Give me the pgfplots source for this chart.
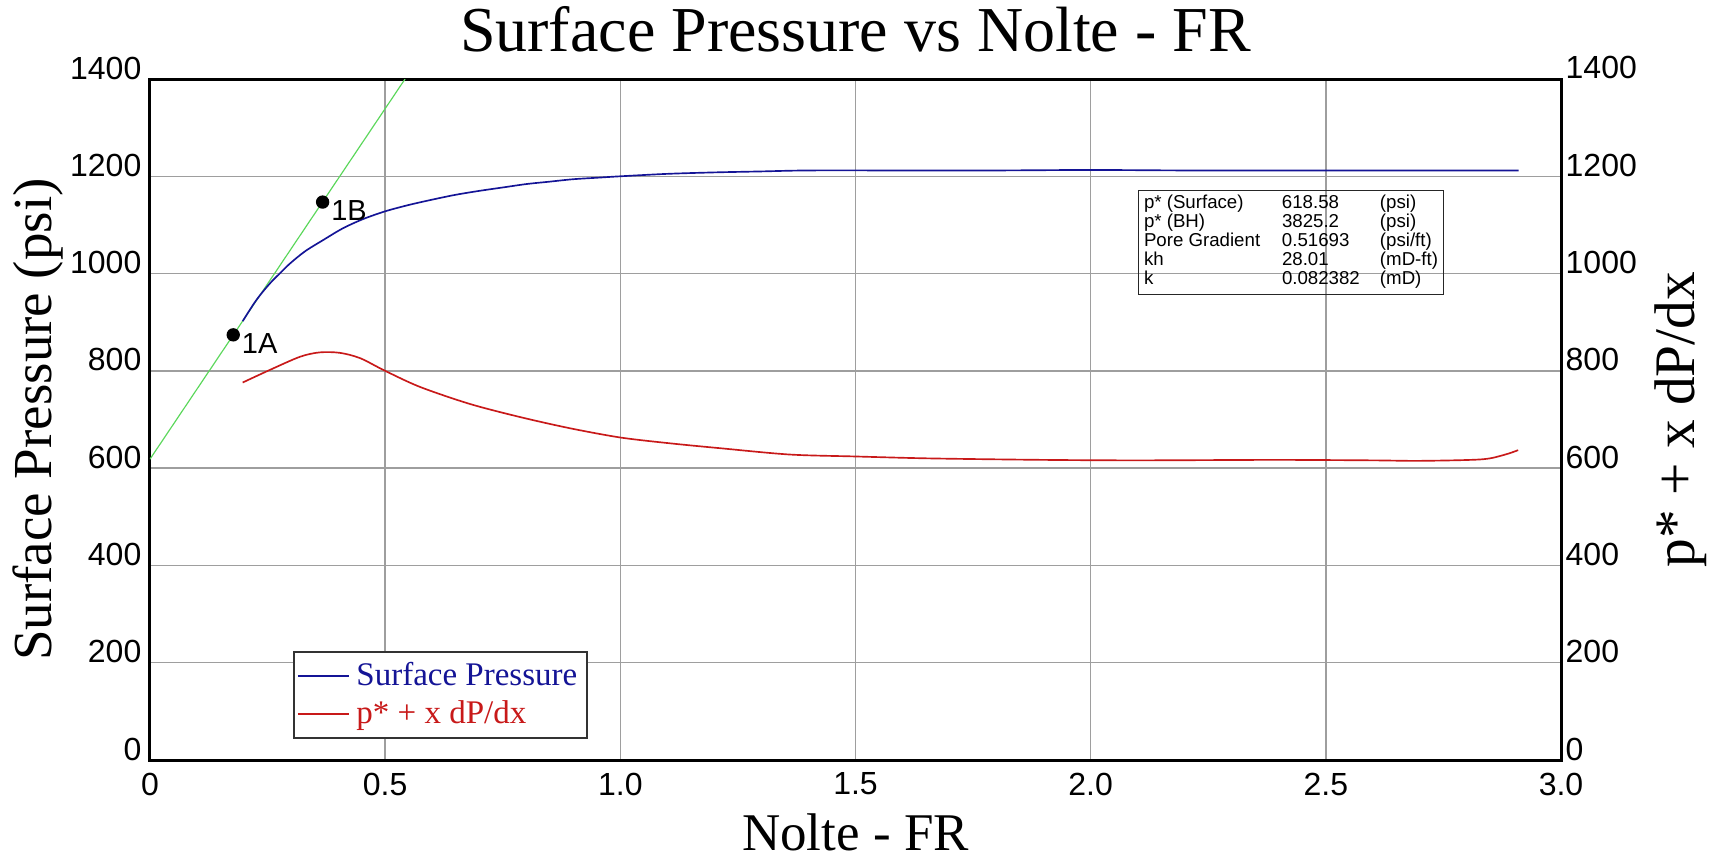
\documentclass[border=0pt]{standalone}
\usepackage{fontspec}
\setmainfont{Liberation Serif}
\newfontfamily\arial{Liberation Sans}
\usepackage{pgfplots}
\pgfplotsset{compat=1.18}

\definecolor{surfblue}{RGB}{20,20,150}
\definecolor{pstarred}{RGB}{200,25,25}
\definecolor{tangent}{RGB}{90,215,90}

\pgfplotstableread{
x y
0.197 902
0.210 922
0.225 944
0.241 964
0.260 985
0.280 1004
0.298 1021
0.330 1046
0.370 1070
0.410 1093
0.453 1112
0.500 1128
0.550 1141
0.600 1152
0.650 1162
0.700 1170
0.750 1177
0.800 1184
0.850 1189
0.900 1194
0.950 1197
1.000 1200
1.100 1205
1.200 1208
1.300 1210
1.400 1212
1.600 1212
1.800 1212
2.000 1213
2.200 1212
2.400 1212
2.600 1212
2.800 1212
2.910 1212
}\surface

\pgfplotstableread{
x y
0.197 776
0.255 802
0.319 829
0.361 838
0.404 837
0.447 826
0.500 800
0.574 767
0.680 732
0.787 705
0.893 682
1.000 663
1.106 651
1.212 641
1.360 628
1.500 624
1.660 620
1.900 617
2.100 616
2.390 617
2.600 616
2.700 615
2.830 618
2.878 627
2.909 637
}\pstar

\begin{document}
\begin{tikzpicture}
\begin{axis}[
  name=ax,
  width=423.3pt, height=204.3pt, scale only axis,
  xmin=0, xmax=3, ymin=0, ymax=1400,
  xtick={0,0.5,1,1.5,2,2.5,3},
  xticklabels={0,0.5,1.0,1.5,2.0,2.5,3.0},
  ytick={0,200,400,600,800,1000,1200,1400},
  yticklabels={0,200,400,600,800,1000,1200,1400},
  ytick pos=left,
  tick style={draw=none},
  grid=major,
  major grid style={draw=black!38, line width=0.45pt},
  axis line style={line width=0.9pt, black},
  ticklabel style={font={\arial\fontsize{9.6pt}{11pt}\selectfont}},
  xticklabel style={anchor=north, inner sep=0pt, yshift=-3.6pt},
  yticklabel style={anchor=base east, inner sep=0pt, xshift=-2.4pt},
  every axis title shift=0pt,
  title={Surface Pressure vs Nolte - FR},
  title style={at={(axis description cs:0.5,1.0402)}, anchor=base, inner sep=0pt,
    font=\fontsize{19.2pt}{22pt}\selectfont},
  xlabel={Nolte - FR},
  xlabel style={at={(axis description cs:0.5,-0.1335)}, anchor=base, inner sep=0pt,
    font=\fontsize{15.9pt}{18pt}\selectfont},
  ylabel={Surface Pressure (psi)},
  ylabel style={at={(axis description cs:-0.0695,0.5)}, anchor=base, inner sep=0pt,
    font=\fontsize{16.5pt}{19pt}\selectfont},
  legend style={at={(0.1013,0.0308)}, anchor=south west, draw=black!80, line width=0.5pt,
    font=\fontsize{9.9pt}{11pt}\selectfont, inner xsep=1pt, inner ysep=1pt,
    row sep=-1pt},
  legend cell align=left,
  legend image code/.code={\draw[#1] (0pt,0pt) -- (15.3pt,0pt);},
]
\addplot[tangent, line width=0.35pt, forget plot] coordinates {(0,618.58) (0.5423,1400)};
\addplot[surfblue, line width=0.5pt, smooth, tension=0.5] table {\surface};
\addlegendentry{\textcolor{surfblue}{Surface Pressure}}
\addplot[pstarred, line width=0.5pt, smooth, tension=0.5] table {\pstar};
\addlegendentry{\textcolor{pstarred}{p* + x dP/dx}}
\addplot[only marks, mark=*, mark size=1.8pt, black, forget plot,
  point meta=explicit symbolic, nodes near coords,
  every node near coord/.append style={anchor=north west, inner sep=0pt, xshift=2.4pt,
    yshift=0.6pt, text=black, font={\arial\fontsize{8.7pt}{10pt}\selectfont}}]
  table[meta=lab] {
x y lab
0.177 874 1A
0.367 1147 1B
};
\node[draw=black!85, line width=0.3pt, anchor=north west, inner xsep=1.6pt, inner ysep=1.3pt,
  font={\arial\fontsize{5.6pt}{5.5pt}\selectfont}] at (axis cs:2.101,1172) {%
  \begin{tabular}{@{}p{41.4pt}@{}p{29.4pt}@{}l@{}}
  p* (Surface) & 618.58 & (psi)\\
  p* (BH) & 3825.2 & (psi)\\
  Pore Gradient & 0.51693 & (psi/ft)\\
  kh & 28.01 & (mD-ft)\\
  k & 0.082382 & (mD)
  \end{tabular}};
\end{axis}
\begin{axis}[
  width=423.3pt, height=204.3pt, scale only axis,
  xmin=0, xmax=3, ymin=0, ymax=1400,
  hide x axis,
  axis y line*=right,
  axis line style={line width=0.9pt, black},
  tick style={draw=none},
  ytick={0,200,400,600,800,1000,1200,1400},
  yticklabels={0,200,400,600,800,1000,1200,1400},
  ticklabel style={font={\arial\fontsize{9.6pt}{11pt}\selectfont}},
  yticklabel style={anchor=base west, inner sep=0pt, xshift=1.2pt},
  ylabel={p* + x dP/dx},
  ylabel style={at={(axis description cs:1.0945,0.5)}, anchor=base, inner sep=0pt,
    font=\fontsize{17.2pt}{20pt}\selectfont},
]
\addplot[draw=none, forget plot] coordinates {(0,0)};
\end{axis}
\pgfresetboundingbox
\path ([shift={(-45pt,-29.4pt)}]ax.south west) rectangle ([shift={(48.6pt,23.7pt)}]ax.north east);
\end{tikzpicture}
\end{document}
